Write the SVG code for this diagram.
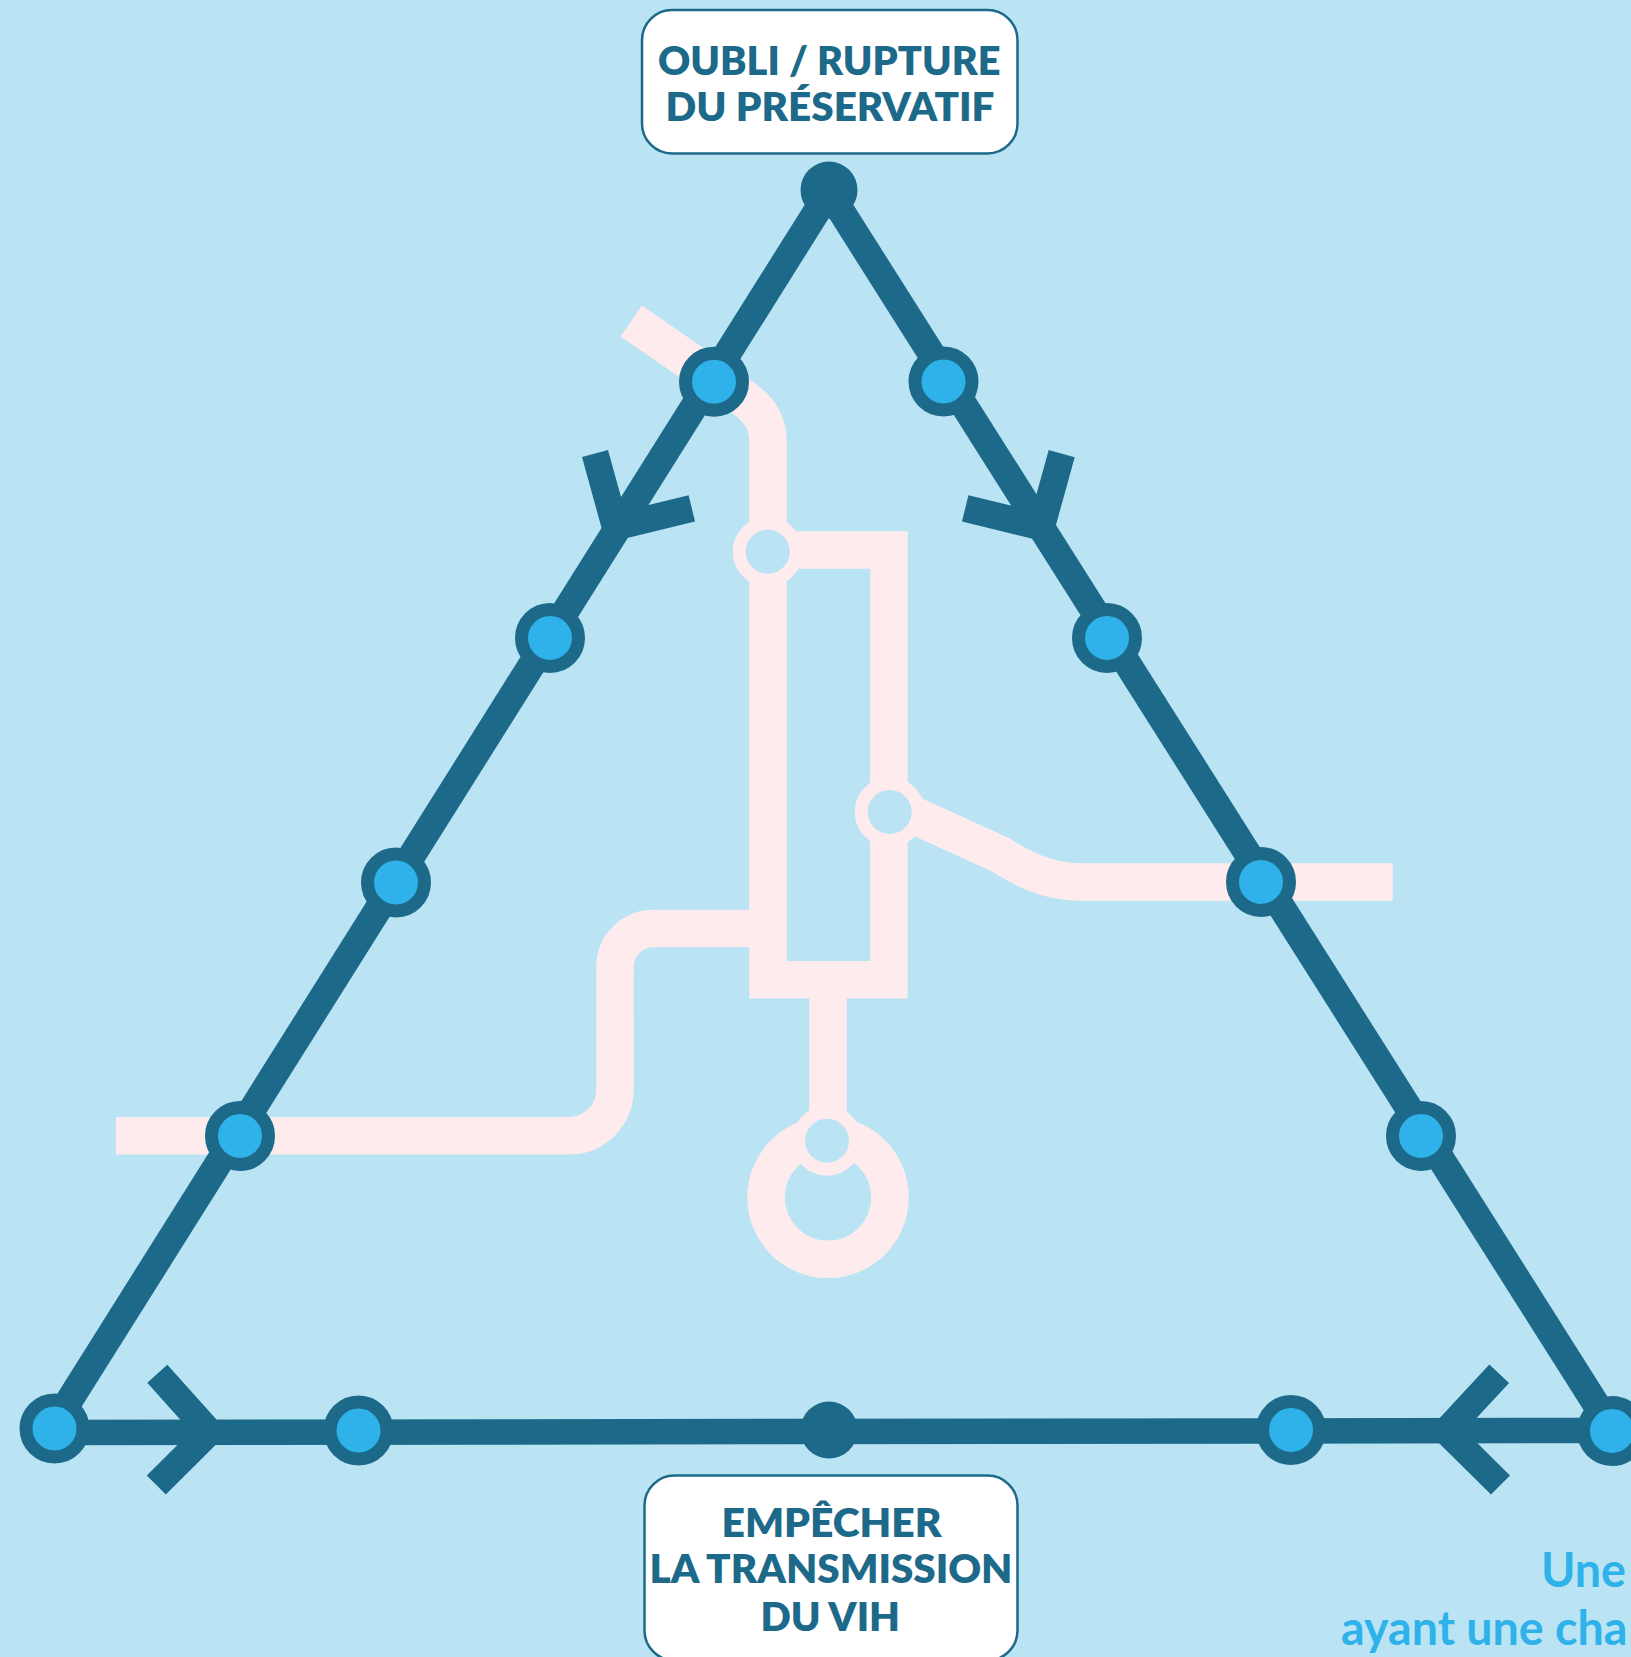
<svg xmlns="http://www.w3.org/2000/svg" width="1631" height="1657" viewBox="0 0 1631 1657">
<style>
.bg{fill:#bae4f4}
.pink{fill:none;stroke:#feebed;stroke-width:37.5;stroke-miterlimit:10}
.dark{fill:none;stroke:#1d6989;stroke-width:27.5;stroke-miterlimit:10}
.arm{fill:none;stroke:#1d6989;stroke-width:27;stroke-miterlimit:10}
.box{fill:#fff;stroke:#1d6989;stroke-width:2.5}
.n{fill:#2eb2e9;stroke:#1d6989;stroke-width:13}
.p{fill:#bae4f4;stroke:#feebed;stroke-width:13}
.d{fill:#1d6989}
.t{font-family:Lato,"Liberation Sans",sans-serif;font-weight:800;font-size:39px;fill:#1d6989}
.c{font-family:Lato,"Liberation Sans",sans-serif;font-weight:700;font-size:47px;fill:#2eb2e9}
</style>
<rect class="bg" width="1631" height="1657"/>
<g id="connectors">
<g id="pink-pathways">
<path class="pink" d="M631.3 321L731 390C755 404 768 418 768 442V979.7H889V550H768"/>
<path class="pink" d="M116 1135.7H569A46 46 0 0 0 615 1090V967A38.500 38.500 0 0 1 653.500 928.500H768"/>
<path class="pink" d="M828 979.700V1140"/>
<path class="pink" d="M889.700 804.400L1001 855C1025 871 1050 882 1080 882H1392.700"/>
<circle class="pink" cx="828" cy="1197.300" r="62"/>
</g>
<g id="triangle">
<path class="dark" d="M52 1428L829 192L1613 1431"/>
<path class="dark" style="stroke-width:25.500" d="M54 1432.500L1612 1430.500"/>
</g>
<g id="arrowheads">
<path class="arm" d="M595 453.500L615.300 527L691.800 508.300"/>
<path class="arm" d="M1061.700 453.700L1041.400 527L965.200 508.300"/>
<path class="arm" d="M157.300 1373.700L209.500 1432L156.300 1485"/>
<path class="arm" d="M1499.200 1373.700L1446 1431L1500.500 1485"/>
</g>
</g>
<g id="node-apex"><circle class="d" cx="829" cy="190" r="28.500"/></g>
<g id="node-bottom-center"><circle class="d" cx="829" cy="1430" r="28.500"/></g>
<g id="node-l1"><circle class="n" cx="714" cy="381.700" r="28.500"/></g>
<g id="node-l2"><circle class="n" cx="550" cy="638" r="28.500"/></g>
<g id="node-l3"><circle class="n" cx="396" cy="882.500" r="28.500"/></g>
<g id="node-l4"><circle class="n" cx="240" cy="1136" r="28.500"/></g>
<g id="node-l5"><circle class="n" cx="54.500" cy="1428.500" r="28.500"/></g>
<g id="node-r1"><circle class="n" cx="943.500" cy="381.500" r="28.500"/></g>
<g id="node-r2"><circle class="n" cx="1107" cy="638" r="28.500"/></g>
<g id="node-r3"><circle class="n" cx="1261" cy="882" r="28.500"/></g>
<g id="node-r4"><circle class="n" cx="1421" cy="1136" r="28.500"/></g>
<g id="node-r5"><circle class="n" cx="1612" cy="1431" r="28.500"/></g>
<g id="node-b1"><circle class="n" cx="358.500" cy="1430.500" r="28.500"/></g>
<g id="node-b2"><circle class="n" cx="1291" cy="1430" r="28.500"/></g>
<g id="node-p1"><circle class="p" cx="767.700" cy="551.700" r="28.500"/></g>
<g id="node-p2"><circle class="p" cx="889.700" cy="812" r="28.500"/></g>
<g id="node-p3"><circle class="p" cx="827" cy="1140.700" r="28.500"/></g>
<g id="label-top">
<rect class="box" x="642" y="10" width="375.500" height="143.500" rx="30"/>
<text class="t" x="658" y="74.500" textLength="342.500" lengthAdjust="spacingAndGlyphs">OUBLI / RUPTURE</text>
<text class="t" x="665.500" y="121" textLength="329" lengthAdjust="spacingAndGlyphs">DU PRÉSERVATIF</text>
</g>
<g id="label-bottom">
<rect class="box" x="644.500" y="1475.500" width="373" height="185" rx="30"/>
<text class="t" x="721.500" y="1536.500" textLength="220" lengthAdjust="spacingAndGlyphs">EMPÊCHER</text>
<text class="t" x="649.500" y="1583" textLength="363" lengthAdjust="spacingAndGlyphs">LA TRANSMISSION</text>
<text class="t" x="760.500" y="1630.500" textLength="139.500" lengthAdjust="spacingAndGlyphs">DU VIH</text>
</g>
<g id="caption">
<text class="c" x="1541" y="1586.500" textLength="85" lengthAdjust="spacingAndGlyphs">Une</text>
<text class="c" x="1341" y="1645" textLength="286.500" lengthAdjust="spacingAndGlyphs">ayant une cha</text>
</g>
</svg>
